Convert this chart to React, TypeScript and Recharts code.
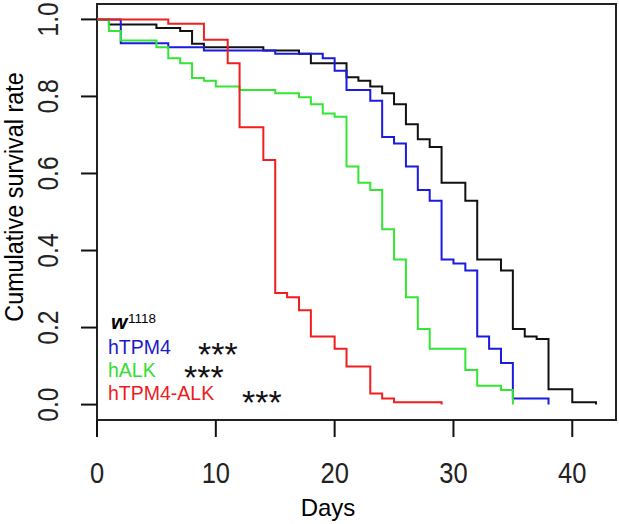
import React from "react";
import { LineChart, Line, XAxis, YAxis, ReferenceArea } from "recharts";

// Kaplan-Meier steps (day -> survival after event)
const w1118Days = [0, 1, 5, 7, 8, 9, 14, 17, 18, 21, 22, 23, 24, 25, 26, 27, 28, 29, 31, 32, 34, 35, 36, 37, 38, 40, 42];
const w1118Surv = [1, 0.987, 0.978, 0.97, 0.937, 0.928, 0.919, 0.911, 0.886, 0.85, 0.841, 0.826, 0.808, 0.78, 0.728, 0.689, 0.669, 0.576, 0.529, 0.377, 0.348, 0.196, 0.177, 0.17, 0.04, 0.006, 0];

const tpm4Days = [0, 2, 6, 9, 15, 19, 20, 21, 23, 24, 25, 26, 27, 28, 29, 30, 31, 32, 33, 34, 35, 38];
const tpm4Surv = [1, 0.938, 0.928, 0.919, 0.911, 0.899, 0.867, 0.817, 0.789, 0.695, 0.678, 0.618, 0.557, 0.529, 0.377, 0.366, 0.348, 0.177, 0.145, 0.108, 0.016, 0];

const alkDays = [0, 1, 2, 5, 6, 7, 8, 9, 10, 12, 15, 17, 18, 19, 20, 21, 22, 23, 24, 25, 26, 27, 28, 31, 32, 34, 35];
const alkSurv = [1, 0.97, 0.945, 0.928, 0.899, 0.886, 0.848, 0.841, 0.826, 0.817, 0.808, 0.798, 0.78, 0.756, 0.747, 0.618, 0.576, 0.557, 0.455, 0.377, 0.279, 0.196, 0.145, 0.09, 0.049, 0.038, 0];

const fusionDays = [0, 6, 9, 11, 12, 14, 15, 16, 17, 18, 20, 21, 23, 24, 25, 29];
const fusionSurv = [1, 0.989, 0.947, 0.886, 0.72, 0.635, 0.29, 0.279, 0.245, 0.177, 0.145, 0.099, 0.029, 0.016, 0.006, 0];

const xTicks = [0, 10, 20, 30, 40];
const yTicks = [0, 0.2, 0.4, 0.6, 0.8, 1.0];

const FONT = "'Liberation Sans', Arial, Helvetica, sans-serif";
const X_DOMAIN: [number, number] = [0, 43.68];
const Y_DOMAIN: [number, number] = [-0.04, 1.04];

const toSteps = (days: number[], surv: number[]) =>
	days.map((d, i) => ({ day: d, s: surv[i] }));

const series = [
	{ key: "w1118", data: toSteps(w1118Days, w1118Surv), color: "#111111" },
	{ key: "hTPM4", data: toSteps(tpm4Days, tpm4Surv), color: "#1a1ae0" },
	{ key: "hALK", data: toSteps(alkDays, alkSurv), color: "#33e633" },
	{ key: "hTPM4-ALK", data: toSteps(fusionDays, fusionSurv), color: "#f01e1e" },
];

const XTick = (props: any) => {
	const { x, payload } = props;
	return (
		<text
			transform={`translate(${x},483) scale(0.85,1)`}
			textAnchor="middle"
			fontSize={30}
			fontFamily={FONT}
			fill="#222"
		>
			{payload.value}
		</text>
	);
};

const YTick = (props: any) => {
	const { y, payload } = props;
	return (
		<text
			transform={`translate(58,${y}) rotate(-90) scale(0.85,1)`}
			textAnchor="middle"
			fontSize={29}
			fontFamily={FONT}
			fill="#222"
		>
			{Number(payload.value).toFixed(1)}
		</text>
	);
};

const legendRows = [
	{ label: "hTPM4", color: "#1a1acc", y: 354, starX: 198, starY: 366 },
	{ label: "hALK", color: "#33dd33", y: 377, starX: 184, starY: 389 },
	{ label: "hTPM4-ALK", color: "#ee1c1c", y: 400, starX: 242, starY: 414 },
];

export default function App() {
	return (
		<div style={{ position: "absolute", left: 0, top: 0, width: 619, height: 524, background: "#fff" }}>
			<LineChart
				width={619}
				height={524}
				margin={{ top: 4, right: 3, left: 0, bottom: 0 }}
			>
				<XAxis
					type="number"
					dataKey="day"
					domain={X_DOMAIN}
					ticks={xTicks}
					allowDataOverflow
					height={104}
					tickSize={17}
					axisLine={false}
					tickLine={{ stroke: "#111", strokeWidth: 2 }}
					tick={(p: any) => <XTick {...p} />}
				/>
				<YAxis
					type="number"
					domain={Y_DOMAIN}
					ticks={yTicks}
					allowDataOverflow
					width={97}
					tickSize={16}
					axisLine={false}
					tickLine={{ stroke: "#111", strokeWidth: 2 }}
					tick={(p: any) => <YTick {...p} />}
				/>
				<ReferenceArea
					x1={X_DOMAIN[0]}
					x2={X_DOMAIN[1]}
					y1={Y_DOMAIN[0]}
					y2={Y_DOMAIN[1]}
					fill="none"
					stroke="#222"
					strokeWidth={2}
					fillOpacity={0}
					ifOverflow="visible"
				/>
				{series.map((s) => (
					<Line
						key={s.key}
						data={s.data}
						dataKey="s"
						type="stepAfter"
						stroke={s.color}
						strokeWidth={2}
						dot={false}
						activeDot={false}
						isAnimationActive={false}
					/>
				))}
			</LineChart>
			<svg
				width={619}
				height={524}
				style={{ position: "absolute", left: 0, top: 0, pointerEvents: "none" }}
				fontFamily={FONT}
			>
				<text
					transform="translate(23,197) rotate(-90) scale(0.9,1)"
					textAnchor="middle"
					fontSize={26}
					fill="#000"
				>
					Cumulative survival rate
				</text>
				<text x={328} y={516} textAnchor="middle" fontSize={24} fill="#000">
					Days
				</text>
				<text x={111} y={329} fontSize={21} fontWeight="bold" fontStyle="italic" fill="#000">
					w
				</text>
				<text x={128} y={323} fontSize={13.5} fill="#000">
					1118
				</text>
				{legendRows.map((r) => (
					<g key={r.label}>
						<text x={108} y={r.y} fontSize={19.5} fill={r.color}>
							{r.label}
						</text>
						<text x={r.starX} y={r.starY} fontSize={34} fill="#111">
							***
						</text>
					</g>
				))}
			</svg>
		</div>
	);
}
